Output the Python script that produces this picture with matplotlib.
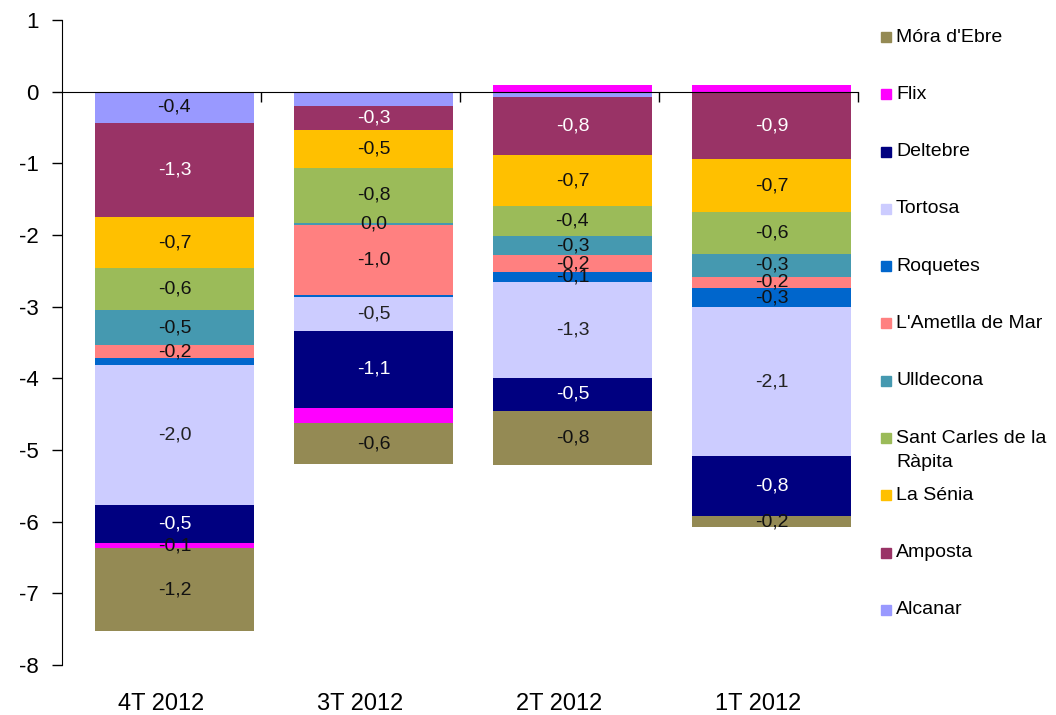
import matplotlib
matplotlib.use("Agg")
import matplotlib.pyplot as plt
from matplotlib.patches import Rectangle
import numpy as np

plt.rcParams['font.family'] = ['Liberation Sans', 'DejaVu Sans']
plt.rcParams['axes.unicode_minus'] = False

# quarters (left to right)
quarters = ['4T 2012', '3T 2012', '2T 2012', '1T 2012']

# contribution per municipality, stacked from the top of each bar down
series_names = ['Alcanar', 'Amposta', 'La Sénia', 'Sant Carles de la\nRàpita',
                'Ulldecona', "L'Ametlla de Mar", 'Roquetes', 'Tortosa',
                'Deltebre', 'Flix', "Móra d'Ebre"]
alcanar = [-0.44, -0.20, -0.08, -0.02]
amposta = [-1.31, -0.34, -0.81, -0.92]
la_senia = [-0.71, -0.52, -0.70, -0.74]
sant_carles = [-0.59, -0.77, -0.43, -0.59]
ulldecona = [-0.49, -0.03, -0.26, -0.31]
ametlla = [-0.18, -0.98, -0.24, -0.16]
roquetes = [-0.09, -0.03, -0.14, -0.27]
tortosa = [-1.96, -0.47, -1.33, -2.07]
deltebre = [-0.53, -1.07, -0.46, -0.84]
flix = [-0.07, -0.22, 0.10, 0.10]
mora = [-1.16, -0.56, -0.76, -0.16]

# which value labels are shown on the chart (1 = shown)
show_alcanar = [1, 0, 0, 0]
show_amposta = [1, 1, 1, 1]
show_la_senia = [1, 1, 1, 1]
show_sant_carles = [1, 1, 1, 1]
show_ulldecona = [1, 1, 1, 1]
show_ametlla = [1, 1, 1, 1]
show_roquetes = [0, 0, 1, 1]
show_tortosa = [1, 1, 1, 1]
show_deltebre = [1, 1, 1, 1]
show_flix = [1, 0, 0, 0]
show_mora = [1, 1, 1, 1]

series_values = [alcanar, amposta, la_senia, sant_carles, ulldecona, ametlla,
                 roquetes, tortosa, deltebre, flix, mora]
series_show = [show_alcanar, show_amposta, show_la_senia, show_sant_carles,
               show_ulldecona, show_ametlla, show_roquetes, show_tortosa,
               show_deltebre, show_flix, show_mora]
colors = ['#9999FF', '#993366', '#FFC000', '#9BBB59', '#4599B0', '#FF8080',
          '#0066CC', '#CCCCFF', '#000080', '#FF00FF', '#948A54']
label_colors = ['#111111', 'white', '#111111', '#111111', '#111111', '#111111',
                '#111111', '#222222', 'white', '#111111', '#111111']


def fmt(v):
    s = f"{v:.1f}"
    if s == "-0.0":
        s = "0.0"
    return s.replace('.', ',')


fig = plt.figure(figsize=(10.56, 7.15), dpi=100)
ax = fig.add_axes([0.0587, 0.070, 0.7538, 0.902])

x = np.arange(len(quarters))
xb = x + 0.065  # bars sit slightly right of the category centre
neg_base = np.zeros(len(quarters))
pos_base = np.zeros(len(quarters))
for name, vals, show, col, lcol in zip(series_names, series_values, series_show,
                                       colors, label_colors):
    vals = np.array(vals)
    bottoms = np.where(vals < 0, neg_base, pos_base)
    ax.bar(xb, vals, 0.8, bottom=bottoms, color=col, linewidth=0, zorder=2)
    for i, v in enumerate(vals):
        if show[i]:
            ax.text(xb[i], bottoms[i] + v / 2, fmt(v), ha='center', va='center',
                    fontsize=14, color=lcol, zorder=4)
    neg_base = np.where(vals < 0, neg_base + vals, neg_base)
    pos_base = np.where(vals >= 0, pos_base + vals, pos_base)

ax.set_xlim(-0.5, 3.5)
ax.set_ylim(-8, 1)
ax.set_yticks(range(-8, 2))
ax.tick_params(axis='y', labelsize=16, length=7, width=1, pad=10)
ax.spines['top'].set_visible(False)
ax.spines['right'].set_visible(False)
ax.spines['bottom'].set_position(('data', 0))
ax.spines['bottom'].set_zorder(3)
ax.set_xticks([0.5, 1.5, 2.5, 3.5])
ax.set_xticklabels([])
ax.tick_params(axis='x', length=7, width=1, direction='out')

for i, q in enumerate(quarters):
    ax.text(x[i], -0.06, q, transform=ax.get_xaxis_transform(), ha='center',
            va='center', fontsize=17)

# legend drawn as a column on the right, bottom series first
leg_y0 = 1 - 37 / 715
leg_step = 57.3 / 715
for k, idx in enumerate(range(len(series_names) - 1, -1, -1)):
    yc = leg_y0 - k * leg_step
    fig.patches.append(Rectangle((881 / 1056, yc - 5 / 715), 10 / 1056, 10 / 715,
                                 transform=fig.transFigure, color=colors[idx]))
    lines = series_names[idx].split('\n')
    for j, ln in enumerate(lines):
        fig.text(896 / 1056, yc - j * 24 / 715, ln, ha='left', va='center',
                 fontsize=14)

fig.savefig('out.png', dpi=100)
